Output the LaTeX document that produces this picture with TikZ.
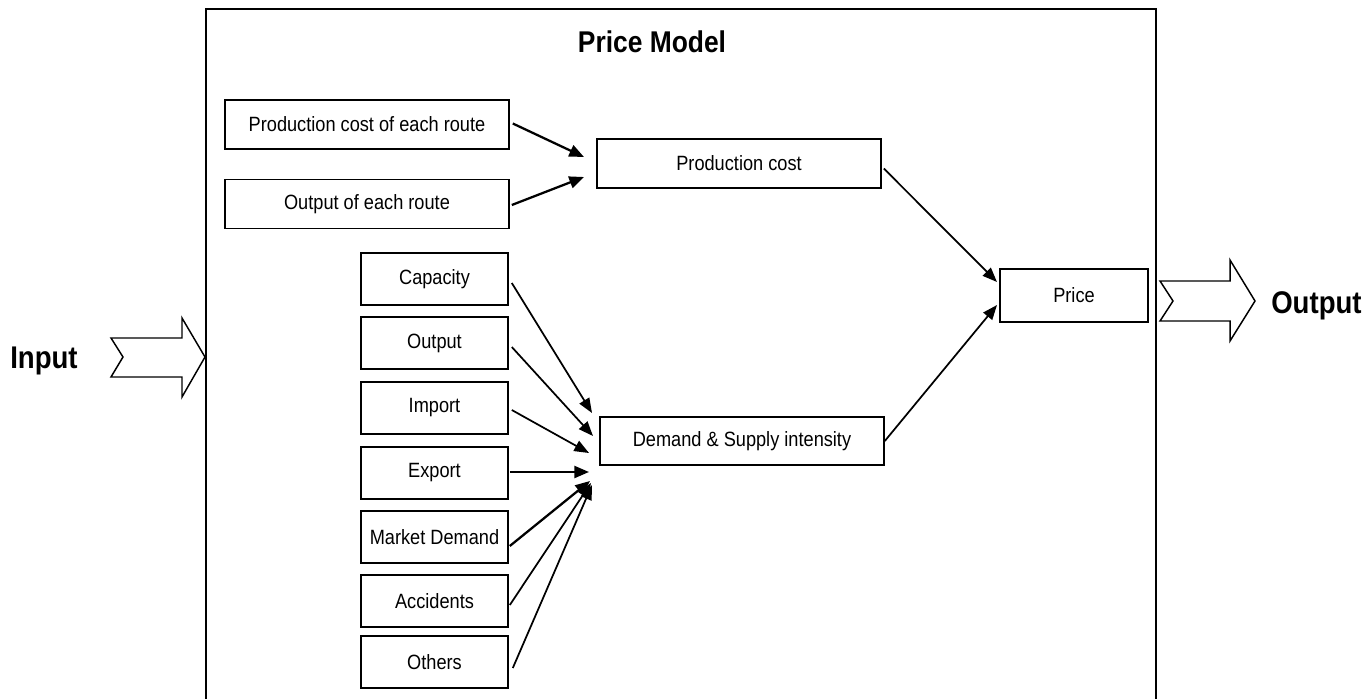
\documentclass[tikz,border=0pt]{standalone}
\usepackage{fontspec}
\setmainfont{Liberation Sans}[FakeStretch=0.88]
\usetikzlibrary{arrows.meta,calc}
\begin{document}
\begin{tikzpicture}[x=0.75pt,y=-0.75pt,
  box/.style={draw,line width=1.2pt,inner sep=0pt,font=\fontsize{15.5}{18}\selectfont,align=center},
  widebox/.style={box,minimum width=213pt,minimum height=36.75pt},
  smallbox/.style={box,minimum width=110.25pt,minimum height=39pt},
  link/.style={line width=1.7pt,-{Triangle[length=11pt,width=9pt]}},
  thinlink/.style={line width=1.3pt,-{Triangle[length=11pt,width=8.5pt]}},
  bigarrow/.style={draw,line width=1.1pt,fill=white,line join=miter},
  biglabel/.style={font=\fontsize{23.5}{28}\selectfont\bfseries,inner sep=0pt}]
\useasboundingbox (0,0) rectangle (1370,699);
% frame
\draw[line width=1.2pt] (206,710) -- (206,9) -- (1156,9) -- (1156,710);
\node[biglabel,anchor=base,font=\fontsize{22.5}{27}\selectfont\bfseries] (title) at (652,53) {Price Model};
% boxes
\node[widebox] (pcr) at (367,124.5) {Production cost of each route};
\node[widebox] (oer) at (367,204) {Output of each route};
\node[widebox] (pc) at (739,163.5) {Production cost};
\node[box,minimum width=213pt,minimum height=36pt] (ds) at (742,441) {Demand \& Supply intensity};
\node[box,minimum width=111pt,minimum height=39.75pt] (price) at (1074,295.5) {Price};
\node[smallbox] (cap) at (434.5,279) {Capacity};
\node[smallbox] (out) at (434.5,343) {Output};
\node[smallbox] (imp) at (434.5,408) {Import};
\node[smallbox] (exp) at (434.5,473) {Export};
\node[smallbox] (md) at (434.5,537) {Market Demand};
\node[smallbox] (acc) at (434.5,601) {Accidents};
\node[smallbox] (oth) at (434.5,662) {Others};
% arrow tips
\coordinate (t1) at (584,157);
\coordinate (t2) at (584,177);
\coordinate (d1) at (592,413);
\coordinate (d2) at (593,436);
\coordinate (d3) at (589,453);
\coordinate (d4) at (589,472);
\coordinate (d5) at (590,481);
\coordinate (d6) at (591,483);
\coordinate (d7) at (592,485);
\coordinate (p1) at (997,282);
\coordinate (p2) at (997,305);
% connectors
\draw[link] ($(pcr.east)+(3,-1)$) -- (t1);
\draw[link] ($(oer.east)+(2,1)$) -- (t2);
\draw[thinlink] ($(cap.east)+(3,4)$) -- (d1);
\draw[thinlink] ($(out.east)+(3,4)$) -- (d2);
\draw[thinlink] ($(imp.east)+(3,2)$) -- (d3);
\draw[link] ($(exp.east)+(1,-1)$) -- (d4);
\draw[link] ($(md.east)+(1,9)$) -- (d5);
\draw[thinlink] ($(acc.east)+(1,4)$) -- (d6);
\draw[thinlink] ($(oth.east)+(4,6)$) -- (d7);
\draw[thinlink] ($(pc.east)+(2,5)$) -- (p1);
\draw[thinlink] (ds.east) -- (p2);
% input / output arrows
\draw[bigarrow] (111,338) -- (182,338) -- (182,318) -- (205,357) -- (182,397) -- (182,377) -- (111,377) -- (123,357) -- cycle;
\draw[bigarrow] (1160,281) -- (1230,281) -- (1230,260) -- (1255,301) -- (1230,341) -- (1230,321) -- (1160,321) -- (1173,301) -- cycle;
\node[biglabel,anchor=base west] (inlabel) at (10,368) {Input};
\node[biglabel,anchor=base west] (outlabel) at (1271,313) {Output};
\end{tikzpicture}
\end{document}
